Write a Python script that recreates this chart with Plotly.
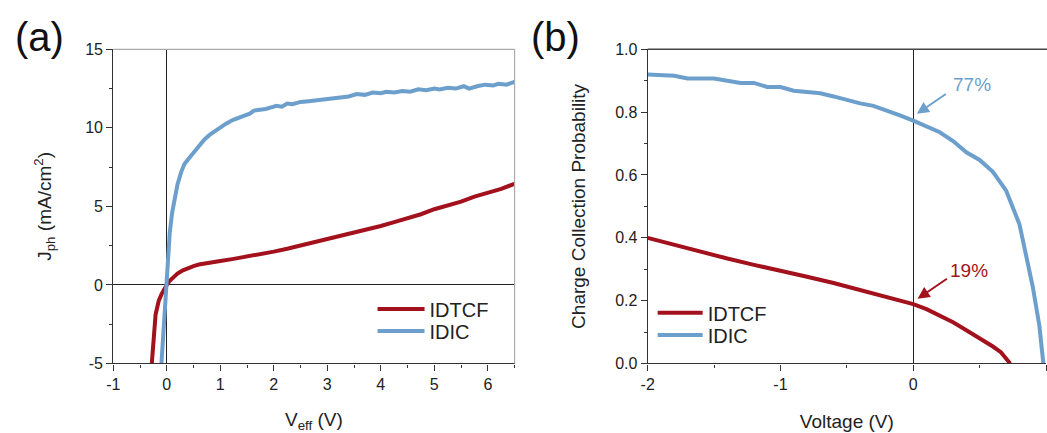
import plotly.graph_objects as go

# ---------------- data: panel (a) Jph vs Veff ----------------
idtcf_a_v = [-0.28, -0.24, -0.21, -0.19, -0.15, -0.10, -0.05, 0.0, 0.05, 0.1, 0.2, 0.3, 0.4, 0.5, 0.6, 0.75,
             0.9, 1.0, 1.25, 1.5, 1.75, 2.0, 2.25, 2.5, 2.75, 3.0, 3.25, 3.5, 3.75, 4.0, 4.25, 4.5,
             4.75, 5.0, 5.25, 5.5, 5.75, 6.0, 6.25, 6.5]
idtcf_a_j = [-5.0, -3.0, -1.9, -1.6, -1.0, -0.6, -0.25, 0.0, 0.25, 0.42, 0.72, 0.93, 1.08, 1.2, 1.3, 1.4,
             1.48, 1.52, 1.66, 1.8, 1.95, 2.12, 2.3, 2.5, 2.7, 2.92, 3.1, 3.3, 3.52, 3.75, 4.0, 4.24,
             4.5, 4.82, 5.05, 5.3, 5.62, 5.85, 6.12, 6.44]

idic_a_v = [-0.10, -0.07, -0.04, -0.02, 0.0, 0.03, 0.056, 0.1, 0.15, 0.2, 0.27, 0.33, 0.40, 0.47, 0.55,
            0.62, 0.70, 0.80, 0.92, 1.0, 1.1, 1.23, 1.35, 1.45, 1.55, 1.63, 1.75, 1.85, 1.95, 2.05,
            2.15, 2.25, 2.35, 2.5, 2.65, 2.8, 2.95, 3.1, 3.25, 3.4, 3.55, 3.7, 3.85, 4.0, 4.1, 4.25,
            4.4, 4.55, 4.7, 4.85, 5.0, 5.1, 5.25, 5.4, 5.55, 5.65, 5.8, 5.95, 6.1, 6.2, 6.35, 6.5]
idic_a_j = [-5.0, -3.4, -1.9, -0.9, 0.0, 1.9, 3.35, 4.6, 5.4, 6.4, 7.2, 7.7, 8.0, 8.3, 8.6,
            8.85, 9.25, 9.55, 9.85, 10.02, 10.25, 10.5, 10.65, 10.8, 10.9, 11.1, 11.15, 11.2, 11.3, 11.4,
            11.35, 11.55, 11.5, 11.65, 11.7, 11.75, 11.85, 11.85, 11.95, 12.0, 12.15, 12.1, 12.25, 12.2, 12.3, 12.25,
            12.35, 12.3, 12.45, 12.4, 12.5, 12.45, 12.55, 12.5, 12.65, 12.5, 12.65, 12.75, 12.7, 12.8, 12.75, 12.93]

# ---------------- data: panel (b) charge collection probability ----------------
idtcf_b_v = [-2.0, -1.8, -1.6, -1.4, -1.2, -1.0, -0.8, -0.6, -0.4, -0.2, 0.0, 0.1, 0.2, 0.3, 0.4,
             0.5, 0.6, 0.66, 0.70, 0.73]
idtcf_b_p = [0.40, 0.377, 0.356, 0.334, 0.314, 0.296, 0.276, 0.256, 0.234, 0.213, 0.189, 0.173, 0.153, 0.131, 0.106,
             0.081, 0.054, 0.036, 0.018, 0.0]

idic_b_v = [-2.0, -1.9, -1.8, -1.7, -1.6, -1.5, -1.4, -1.3, -1.2, -1.1, -1.0, -0.9, -0.8, -0.7, -0.6,
            -0.5, -0.4, -0.3, -0.2, -0.1, 0.0, 0.1, 0.2, 0.3, 0.4, 0.5, 0.6, 0.7, 0.8, 0.9, 0.95, 0.98]
idic_b_p = [0.920, 0.917, 0.916, 0.907, 0.907, 0.907, 0.900, 0.893, 0.893, 0.880, 0.880, 0.868, 0.864, 0.860, 0.850,
            0.838, 0.828, 0.820, 0.806, 0.790, 0.773, 0.754, 0.736, 0.708, 0.672, 0.648, 0.610, 0.550, 0.443, 0.245, 0.12, 0.0]

# ---------------- tick labels (hyphen minus as in the reference) ----------------
xa_ticks = [-1, 0, 1, 2, 3, 4, 5, 6]
xa_labels = ["-1", "0", "1", "2", "3", "4", "5", "6"]
ya_ticks = [-5, 0, 5, 10, 15]
ya_labels = ["-5", "0", "5", "10", "15"]
xb_ticks = [-2, -1, 0, 1]
xb_labels = ["-2", "-1", "0", "1"]
yb_ticks = [0.0, 0.2, 0.4, 0.6, 0.8, 1.0]
yb_labels = ["0.0", "0.2", "0.4", "0.6", "0.8", "1.0"]

RED = "#A3111D"
BLUE = "#6C9FCC"
FONT = "Liberation Sans, Arial, sans-serif"
W, H = 1047, 433

def px_x(p):
    return p / W

def px_y(p):
    return 1 - p / H

fig = go.Figure()
fig.add_trace(go.Scatter(x=idtcf_a_v, y=idtcf_a_j, mode="lines", name="IDTCF", showlegend=True,
                         line=dict(color=RED, width=4), xaxis="x", yaxis="y", legend="legend"))
fig.add_trace(go.Scatter(x=idic_a_v, y=idic_a_j, mode="lines", name="IDIC", showlegend=True,
                         line=dict(color=BLUE, width=4), xaxis="x", yaxis="y", legend="legend2"))
fig.add_trace(go.Scatter(x=idtcf_b_v, y=idtcf_b_p, mode="lines", name="IDTCF", showlegend=True,
                         line=dict(color=RED, width=4), xaxis="x2", yaxis="y2", legend="legend3"))
fig.add_trace(go.Scatter(x=idic_b_v, y=idic_b_p, mode="lines", name="IDIC", showlegend=True,
                         line=dict(color=BLUE, width=4), xaxis="x2", yaxis="y2", legend="legend4"))

axis_common = dict(showgrid=False, showline=True, linecolor="#333333", linewidth=1.2,
                   ticks="outside", ticklen=6, tickwidth=1.2, tickcolor="#333333",
                   tickfont=dict(family=FONT, size=16, color="#222222"))
zl = dict(zeroline=True, zerolinecolor="#222222", zerolinewidth=1.2)
tfont = dict(size=19, family=FONT, color="#222222")

yd = [px_y(370), px_y(43)]

def leg(x, ytop, w):
    return dict(x=px_x(x), y=px_y(ytop), xanchor="left", yanchor="top", bgcolor="rgba(0,0,0,0)",
                font=dict(family=FONT, size=20, color="#222222"), itemwidth=w, borderwidth=0)

fig.update_layout(
    width=W, height=H, margin=dict(l=0, r=0, t=0, b=0),
    paper_bgcolor="white", plot_bgcolor="white", showlegend=True,
    font=dict(family=FONT, color="#222222"),
    xaxis=dict(**axis_common, **zl, domain=[px_x(107), px_x(511)], range=[-1, 6.5],
               tickvals=xa_ticks, ticktext=xa_labels, anchor="y",
               minor=dict(ticks="outside", ticklen=3, dtick=0.5, tickcolor="#333333"),
               title=dict(text="V<sub>eff</sub> (V)", font=tfont, standoff=22)),
    yaxis=dict(**axis_common, **zl, domain=yd, range=[-5, 15],
               tickvals=ya_ticks, ticktext=ya_labels, anchor="x",
               minor=dict(ticks="outside", ticklen=3, dtick=2.5, tickcolor="#333333"),
               title=dict(text="J<sub>ph</sub> (mA/cm<sup>2</sup>)", font=tfont, standoff=28)),
    xaxis2=dict(**axis_common, **zl, domain=[px_x(645), px_x(1046)], range=[-2, 1.0],
                tickvals=xb_ticks, ticktext=xb_labels, anchor="y2",
                minor=dict(ticks="outside", ticklen=3, dtick=0.5, tickcolor="#333333"),
                title=dict(text="Voltage (V)", font=tfont, standoff=22)),
    yaxis2=dict(**axis_common, zeroline=False, domain=yd, range=[0, 1.0],
                tickvals=yb_ticks, ticktext=yb_labels, anchor="x2",
                minor=dict(ticks="outside", ticklen=3, dtick=0.1, tickcolor="#333333"),
                title=dict(text="Charge Collection Probability", font=tfont, standoff=24)),
    legend=leg(368, 293, 47),
    legend2=leg(368, 316, 47),
    legend3=leg(650, 297, 45),
    legend4=leg(650, 320, 45),
)

# frame: top/right light grey in (a), top dark in (b)
fig.add_shape(type="line", xref="paper", yref="paper", x0=px_x(107), x1=px_x(511), y0=px_y(43), y1=px_y(43),
              line=dict(color="#AAAAAA", width=1.2))
fig.add_shape(type="line", xref="paper", yref="paper", x0=px_x(511), x1=px_x(511), y0=px_y(43), y1=px_y(370),
              line=dict(color="#AAAAAA", width=1.2))
fig.add_shape(type="line", xref="paper", yref="paper", x0=px_x(645), x1=1, y0=px_y(43), y1=px_y(43),
              line=dict(color="#444444", width=1.5))

# panel labels
fig.add_annotation(text="(a)", xref="paper", yref="paper", x=px_x(33), y=px_y(30), xanchor="center",
                   yanchor="middle", showarrow=False, font=dict(family=FONT, size=40, color="#111111"))
fig.add_annotation(text="(b)", xref="paper", yref="paper", x=px_x(552), y=px_y(30), xanchor="center",
                   yanchor="middle", showarrow=False, font=dict(family=FONT, size=40, color="#111111"))

# arrows + percentage labels in (b)
fig.add_annotation(x=0.028, y=0.795, ax=0.257, ay=0.861, xref="x2", yref="y2", axref="x2", ayref="y2",
                   text="", showarrow=True, arrowhead=2, arrowsize=1.2, arrowwidth=2, arrowcolor=BLUE)
fig.add_annotation(x=0.033, y=0.206, ax=0.265, ay=0.273, xref="x2", yref="y2", axref="x2", ayref="y2",
                   text="", showarrow=True, arrowhead=2, arrowsize=1.2, arrowwidth=2, arrowcolor=RED)
fig.add_annotation(x=0.44, y=0.887, xref="x2", yref="y2", text="77%", showarrow=False,
                   font=dict(family=FONT, size=19, color=BLUE))
fig.add_annotation(x=0.42, y=0.297, xref="x2", yref="y2", text="19%", showarrow=False,
                   font=dict(family=FONT, size=19, color=RED))

fig.write_html("out.html")
